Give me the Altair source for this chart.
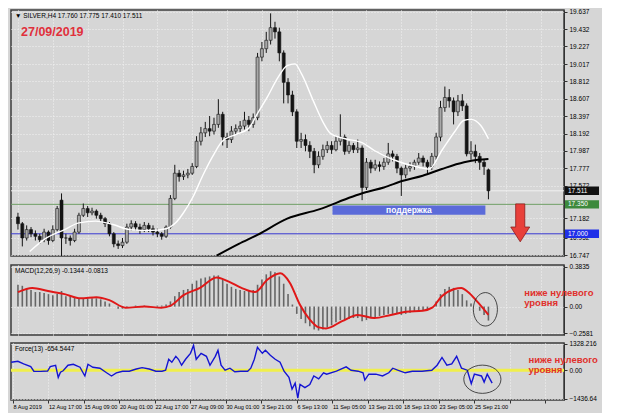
import json
import altair as alt
import pandas as pd

# ---------------- data ----------------
opens = [17.20, 17.12, 16.95, 17.05, 17.00, 16.97, 16.93, 17.02, 16.92, 17.05,
         17.40, 16.95, 16.95, 16.92, 17.02, 17.22, 17.30, 17.25, 17.27, 17.22,
         17.18, 17.12, 17.00, 16.88, 16.86, 16.90, 17.08, 17.12, 17.08, 17.05,
         17.10, 17.06, 17.02, 17.00, 16.97, 17.08, 17.42, 17.72, 17.68, 17.70,
         17.72, 17.80, 18.10, 18.20, 18.25, 18.22, 18.30, 18.42, 18.15, 18.12,
         18.22, 18.25, 18.28, 18.35, 18.30, 18.38, 19.10, 19.20, 19.30, 19.45,
         19.40, 19.15, 18.80, 18.65, 18.45, 18.10, 18.12, 18.05, 17.98, 17.82,
         17.92, 18.00, 18.05, 18.00, 18.10, 18.15, 17.98, 18.05, 18.00, 18.02,
         17.55, 17.85, 17.78, 17.82, 17.80, 17.85, 17.95, 17.92, 17.78, 17.70,
         17.78, 17.80, 17.85, 17.90, 17.85, 17.80, 17.92, 18.15, 18.50, 18.62,
         18.58, 18.45, 18.58, 18.52, 17.95, 17.98, 17.92, 17.85, 17.76]
highs = [17.25, 17.14, 17.10, 17.08, 17.04, 17.00, 17.06, 17.04, 17.10, 17.33,
         17.48, 17.00, 16.98, 17.06, 17.25, 17.36, 17.33, 17.31, 17.29, 17.25,
         17.20, 17.14, 17.02, 16.92, 16.95, 17.12, 17.16, 17.15, 17.12, 17.14,
         17.13, 17.10, 17.06, 17.02, 17.10, 17.46, 17.82, 17.76, 17.75, 17.77,
         17.84, 18.16, 18.27, 18.33, 18.40, 18.38, 18.60, 18.45, 18.20, 18.28,
         18.30, 18.34, 18.45, 18.40, 18.43, 19.15, 19.28, 19.40, 19.62, 19.52,
         19.45, 19.18, 18.85, 18.70, 18.48, 18.20, 18.18, 18.10, 18.02, 17.98,
         18.06, 18.10, 18.10, 18.16, 18.42, 18.18, 18.10, 18.08, 18.12, 18.05,
         17.90, 17.88, 17.88, 17.86, 17.90, 18.08, 17.99, 17.95, 17.80, 17.82,
         17.85, 17.88, 17.96, 17.93, 17.88, 17.96, 18.20, 18.58, 18.75, 18.72,
         18.62, 18.65, 18.66, 18.55, 18.10, 18.06, 17.96, 17.88, 17.775]
lows = [17.05, 16.85, 16.92, 16.96, 16.92, 16.88, 16.90, 16.87, 16.90, 17.03,
        16.70, 16.88, 16.86, 16.90, 17.00, 17.20, 17.20, 17.22, 17.18, 17.14,
        17.08, 16.97, 16.84, 16.82, 16.83, 16.88, 17.04, 17.04, 17.00, 17.02,
        17.02, 16.98, 16.96, 16.93, 16.95, 17.06, 17.40, 17.62, 17.64, 17.66,
        17.70, 17.78, 18.05, 18.15, 18.16, 18.18, 18.26, 18.05, 18.02, 18.08,
        18.18, 18.20, 18.24, 18.22, 18.26, 18.35, 19.05, 19.15, 19.25, 19.32,
        19.05, 18.55, 18.55, 18.40, 18.02, 18.02, 17.98, 17.90, 17.72, 17.78,
        17.88, 17.96, 17.95, 17.98, 18.05, 17.94, 17.95, 17.96, 17.96, 17.40,
        17.52, 17.72, 17.75, 17.74, 17.76, 17.82, 17.86, 17.72, 17.45, 17.66,
        17.74, 17.76, 17.82, 17.80, 17.72, 17.76, 17.88, 18.10, 18.45, 18.50,
        18.30, 18.40, 18.46, 17.92, 17.88, 17.84, 17.76, 17.70, 17.41]
closes = [17.12, 16.95, 17.05, 17.00, 16.97, 16.93, 17.02, 16.92, 17.05, 17.30,
          16.95, 16.95, 16.92, 17.02, 17.22, 17.30, 17.25, 17.27, 17.22, 17.18,
          17.12, 17.00, 16.88, 16.86, 16.90, 17.08, 17.12, 17.08, 17.05, 17.10,
          17.06, 17.02, 17.00, 16.97, 17.08, 17.42, 17.72, 17.68, 17.70, 17.72,
          17.80, 18.10, 18.20, 18.25, 18.22, 18.30, 18.42, 18.15, 18.12, 18.22,
          18.25, 18.28, 18.35, 18.30, 18.38, 19.10, 19.20, 19.30, 19.45, 19.40,
          19.15, 18.80, 18.65, 18.45, 18.10, 18.12, 18.05, 17.98, 17.82, 17.92,
          18.00, 18.05, 18.00, 18.10, 18.15, 17.98, 18.05, 18.00, 18.02, 17.55,
          17.85, 17.78, 17.82, 17.80, 17.85, 17.95, 17.92, 17.78, 17.70, 17.78,
          17.80, 17.85, 17.90, 17.85, 17.80, 17.92, 18.15, 18.50, 18.62, 18.58,
          18.45, 18.58, 18.52, 17.95, 17.98, 17.92, 17.85, 17.80, 17.511]

white_t = [2.7, 6.2, 10.7, 14.0, 17.8, 21.8, 25.6, 30.7, 34.0, 36.2,
           38.0, 40.2, 42.4, 44.7, 46.9, 50.0, 52.9, 55.1, 57.3, 59.6,
           61.8, 63.6, 65.1, 67.8, 70.0, 71.8, 75.1, 79.1, 81.8, 86.2,
           91.3, 94.4, 97.3, 100.2, 102.4, 104.0, 106.2, 108.0]
white_v = [16.79, 16.94, 17.05, 17.13, 17.15, 17.11, 17.05, 17.04, 17.06, 17.13,
           17.25, 17.44, 17.69, 17.92, 18.10, 18.18, 18.25, 18.44, 18.63, 18.85,
           19.00, 19.02, 18.90, 18.58, 18.33, 18.19, 18.13, 18.08, 17.99, 17.88,
           17.80, 17.77, 17.99, 18.21, 18.35, 18.36, 18.29, 18.13]
black_t = [45.6, 50.7, 55.1, 61.8, 69.1, 76.7, 79.6, 84.0, 88.4, 92.9, 97.3, 102.4, 105.6, 108.0]
black_v = [16.74, 16.88, 16.99, 17.18, 17.29, 17.44, 17.49, 17.55, 17.63, 17.69, 17.77, 17.85, 17.88, 17.89]

macd_hist = [0.21, 0.20, 0.17, 0.16, 0.14, 0.14, 0.13, 0.12, 0.11, 0.12,
             0.15, 0.10, 0.10, 0.09, 0.08, 0.08, 0.08, 0.08, 0.08, 0.07,
             0.05, 0.03, 0.00, -0.02, -0.02, -0.01, 0.00, 0.01, 0.00, 0.01,
             0.00, 0.00, 0.01, 0.01, 0.02, 0.05, 0.10, 0.14, 0.16, 0.17,
             0.22, 0.25, 0.27, 0.28, 0.29, 0.30, 0.30, 0.26, 0.22, 0.19,
             0.17, 0.16, 0.15, 0.15, 0.16, 0.21, 0.26, 0.31, 0.34, 0.33,
             0.29, 0.22, 0.12, 0.02, -0.07, -0.12, -0.16, -0.19, -0.22, -0.23,
             -0.22, -0.20, -0.18, -0.15, -0.13, -0.13, -0.12, -0.11, -0.11, -0.14,
             -0.13, -0.11, -0.10, -0.09, -0.08, -0.07, -0.07, -0.07, -0.08, -0.07,
             -0.06, -0.05, -0.05, -0.04, -0.03, 0.00, 0.05, 0.12, 0.17, 0.19,
             0.18, 0.16, 0.12, 0.06, 0.03, 0.00, -0.04, -0.08, -0.1344]
signal_t = [0, 3.3, 6.9, 10.7, 14.4, 18.0, 21.1, 24.7, 29.1, 32.9,
            35.1, 38.0, 41.8, 45.6, 48.4, 51.3, 54.4, 57.3, 60.2, 62.4,
            64.7, 66.9, 69.1, 70.7, 74.4, 78.0, 81.8, 85.6, 89.1, 92.9,
            95.1, 97.3, 100.2, 101.8, 103.3, 105.6, 108.0]
signal_v = [0.14, 0.18, 0.15, 0.12, 0.08, 0.09, 0.06, -0.01, 0.00, -0.01,
            0.01, 0.11, 0.18, 0.28, 0.24, 0.18, 0.14, 0.26, 0.32, 0.23,
            0.02, -0.12, -0.20, -0.21, -0.14, -0.08, -0.11, -0.08, -0.05, -0.04,
            -0.01, 0.10, 0.17, 0.18, 0.14, 0.04, -0.08]

force_t = [-0.4, 1.1, 2.4, 4.0, 4.7, 6.2, 7.8, 8.4, 9.6, 10.2,
           10.7, 11.3, 12.4, 13.6, 14.4, 15.1, 16.2, 16.9, 18.0, 19.6,
           21.1, 22.2, 23.3, 24.7, 26.2, 27.8, 29.1, 30.7, 32.2, 33.6,
           34.4, 35.1, 35.8, 36.7, 37.3, 38.0, 38.9, 40.0, 40.7, 41.3,
           42.4, 43.6, 44.4, 45.6, 46.2, 46.9, 47.8, 48.9, 50.0, 51.3,
           52.9, 53.6, 54.4, 55.1, 56.2, 56.9, 58.0, 59.1, 60.2, 61.1,
           62.2, 62.9, 63.6, 64.2, 64.7, 65.8, 66.9, 67.8, 68.9, 70.0,
           70.7, 72.9, 75.1, 76.2, 77.8, 78.9, 79.3, 80.2, 81.8, 83.3,
           84.7, 85.6, 86.7, 88.4, 90.0, 92.2, 94.4, 95.6, 96.7, 97.8,
           98.9, 100.0, 101.1, 102.4, 103.3, 104.0, 105.6, 106.2, 106.9, 108.0]
force_v = [400, 450, 320, 180, -50, -60, -40, 180, 250, -360,
           -100, -30, 250, 300, 220, 150, -290, 300, 150, 100,
           -130, -290, -130, -50, -50, 60, 130, 60, -50, -50,
           0, 550, 400, 700, 550, 250, 550, 850, 1250, 550,
           850, 700, 250, 700, 1000, 250, 0, 100, -80, -50,
           -50, 100, 550, 1150, 850, 1000, 750, 550, 400, -50,
           -360, -950, -650, -1400, -720, -880, -720, -290, -440, -130,
           -200, -50, 170, 0, -50, -130, -500, -200, -200, -290,
           -130, 100, 0, -130, -50, -50, 0, 250, 640, 250,
           320, 700, 100, 0, -680, -200, -290, -600, -200, -654]

x_tick_labels = ["8 Aug 2019", "12 Aug 17:00", "15 Aug 09:00", "20 Aug 01:00",
                 "22 Aug 17:00", "27 Aug 09:00", "30 Aug 01:00", "3 Sep 21:00",
                 "6 Sep 13:00", "11 Sep 05:00", "13 Sep 21:00", "18 Sep 13:00",
                 "23 Sep 05:00", "25 Sep 21:00"]
price_ticks = [19.637, 19.432, 19.227, 19.017, 18.812, 18.607, 18.397, 18.192,
               17.987, 17.777, 17.572, 17.182, 16.952, 16.747]
macd_ticks = [0.3835, 0.0, -0.2581]
force_ticks = [1328.216, 0.0, -1436.64]

last_price = 17.511
support_level = 17.35
blue_level = 17.00
support_box = {"t0": 72.2, "t1": 107.3, "top": 17.335, "bot": 17.225}
arrow_at = {"t": 115.3, "p": 17.13}
macd_circle = {"t": 107.3, "v": -0.026}
force_circle = {"t": 105.8, "v": -455}
note = ["ниже нулевого", "уровня"]
macd_note_v = [0.13, 0.035]
force_note_v = [490, 10]
note_t = 116.2

# ---------------- layout / style ----------------
W = 553
H_MAIN, H_MACD, H_FORCE = 246, 70, 57
FONT = "Liberation Sans"
GRID_COL = "#f2f2f2"
X_DOMAIN = [-0.45, 124.2]
GRID_T = list(range(0, 121, 8))

xscale = alt.Scale(domain=X_DOMAIN, nice=False, zero=False)
x_hidden = alt.Axis(values=GRID_T, labels=False, ticks=False, domain=False, title=None,
                    minExtent=0, maxExtent=0, offset=0,
                    grid=True, gridColor=GRID_COL, gridDash=[1, 2], gridOpacity=1)
lbl_js = json.dumps(x_tick_labels, ensure_ascii=False)
x_shown = alt.Axis(values=GRID_T, title=None, domain=False,
                   labelExpr=f"round(datum.value/8) < {len(x_tick_labels)} ? {lbl_js}[round(datum.value/8)] : ''",
                   labelAlign="left", labelFont=FONT, labelFontSize=5.6, labelColor="#000",
                   labelPadding=1, tickSize=3, tickColor="#333", labelOverlap=False,
                   grid=True, gridColor=GRID_COL, gridDash=[1, 2], gridOpacity=1)


def yaxis(values, fmt=None, expr=None):
    kw = dict(orient="right", values=values, title=None, labelFont=FONT, labelFontSize=6.5,
              labelColor="#000", tickSize=3, tickColor="#333", domainColor="#333",
              grid=True, gridColor=GRID_COL, gridDash=[1, 2], gridOpacity=1,
              labelOverlap=False, labelPadding=2)
    if fmt:
        kw["format"] = fmt
    if expr:
        kw["labelExpr"] = expr
    return alt.Axis(**kw)


def enc_factory(xaxis, yscale_, yaxis_):
    def X(f):
        return alt.X(f, scale=xscale, axis=xaxis)

    def Y(f):
        return alt.Y(f, scale=yscale_, axis=yaxis_)
    return X, Y


one = pd.DataFrame({"a": [0]})

# ---------------- main price panel ----------------
yscale = alt.Scale(domain=[16.736, 19.66], nice=False, zero=False)
MX, MY = enc_factory(x_hidden, yscale, yaxis(price_ticks, fmt=".3f"))

cd = pd.DataFrame({"t": list(range(len(closes))), "o": opens, "h": highs, "l": lows, "c": closes})
cd["up"] = cd["c"] >= cd["o"]

levels = pd.DataFrame({
    "p": [last_price, support_level, blue_level],
    "line": ["#f0f0f0", "#6f9f66", "#3a3ad2"],
    "box": ["#101010", "#3d8a3d", "#1f2fe8"],
})
levels["label"] = levels["p"].map(lambda v: f"{v:.3f}")
levels["top"] = levels["p"] + 0.05
levels["bot"] = levels["p"] - 0.05

hlines = alt.Chart(levels).mark_rule(strokeWidth=1).encode(
    y=MY("p:Q"), color=alt.Color("line:N", scale=None))
wicks = alt.Chart(cd).mark_rule(color="#141414", strokeWidth=1, clip=True).encode(
    x=MX("t:Q"), y=MY("l:Q"), y2="h:Q")
bodies = alt.Chart(cd).mark_bar(size=3, orient="vertical", stroke="#141414", strokeWidth=0.6, clip=True).encode(
    x=MX("t:Q"), y=MY("o:Q"), y2="c:Q",
    fill=alt.condition("datum.up", alt.value("#a8a8a8"), alt.value("#141414")))
ma_white = alt.Chart(pd.DataFrame({"t": white_t, "v": white_v})).mark_line(
    color="#ffffff", strokeWidth=1.4, interpolate="monotone", clip=True).encode(x=MX("t:Q"), y=MY("v:Q"))
ma_black = alt.Chart(pd.DataFrame({"t": black_t, "v": black_v})).mark_line(
    color="#000000", strokeWidth=2, interpolate="monotone", clip=True).encode(x=MX("t:Q"), y=MY("v:Q"))

sb = pd.DataFrame([support_box])
sb["mid_t"] = (sb["t0"] + sb["t1"]) / 2
sb["mid_p"] = (sb["top"] + sb["bot"]) / 2
sup_rect = alt.Chart(sb).mark_rect(color="#5b6bd9").encode(
    x=MX("t0:Q"), x2="t1:Q", y=MY("top:Q"), y2="bot:Q")
sup_text = alt.Chart(sb).mark_text(color="white", font=FONT, fontSize=8.5, fontWeight="bold").encode(
    x=MX("mid_t:Q"), y=MY("mid_p:Q"), text=alt.value("поддержка"))

ARROW = "M-0.24,-1 L0.24,-1 L0.24,0.22 L0.5,0.22 L0,1 L-0.5,0.22 L-0.24,0.22 Z"
arrow = alt.Chart(pd.DataFrame([arrow_at])).mark_point(
    shape=ARROW, size=1440, filled=True, fill="#e8403a", stroke="#8a1c1c", strokeWidth=0.8, opacity=1).encode(
    x=MX("t:Q"), y=MY("p:Q"))

boxes = alt.Chart(levels).mark_rect().encode(
    x=alt.value(W + 1), x2=alt.value(W + 35), y=MY("top:Q"), y2="bot:Q", color=alt.Color("box:N", scale=None))
box_txt = alt.Chart(levels).mark_text(align="left", color="white", font=FONT, fontSize=6.5).encode(
    x=alt.value(W + 4), y=MY("p:Q"), text="label:N")

hdr = f"▼ SILVER,H4  {opens[-1]:.3f} {highs[-1]:.3f} {lows[-1]:.3f} {closes[-1]:.3f}"
hdr_txt = alt.Chart(one).mark_text(align="left", baseline="middle", font=FONT, fontSize=6.5, color="#000").encode(
    x=alt.value(4), y=alt.value(6), text=alt.value(hdr))
date_txt = alt.Chart(one).mark_text(align="left", baseline="middle", font=FONT, fontSize=12.5,
                                    fontWeight="bold", color="#e0303c").encode(
    x=alt.value(10), y=alt.value(22), text=alt.value("27/09/2019"))

main = alt.layer(hlines, wicks, bodies, ma_white, ma_black, sup_rect, sup_text,
                 arrow, boxes, box_txt, hdr_txt, date_txt).properties(width=W, height=H_MAIN)

# ---------------- MACD panel ----------------
mscale = alt.Scale(domain=[-0.273, 0.40], nice=False, zero=False)
macd_expr = "datum.value == 0 ? '0.00' : format(datum.value, '.4f')"
AX, AY = enc_factory(x_hidden, mscale, yaxis(macd_ticks, expr=macd_expr))
hist = alt.Chart(pd.DataFrame({"t": list(range(len(macd_hist))), "v": macd_hist, "z": 0.0})).mark_bar(
    size=1.6, orient="vertical", color="#666666").encode(x=AX("t:Q"), y=AY("v:Q"), y2="z:Q")
sig = alt.Chart(pd.DataFrame({"t": signal_t, "v": signal_v})).mark_line(
    color="#e01818", strokeWidth=2, interpolate="monotone").encode(x=AX("t:Q"), y=AY("v:Q"))
macd_lbl = alt.Chart(one).mark_text(align="left", baseline="middle", font=FONT, fontSize=6.5, color="#000").encode(
    x=alt.value(4), y=alt.value(6), text=alt.value("MACD(12,26,9) -0.1344 -0.0813"))
ELL_TALL = "M-0.72,0 A0.72,1 0 1,0 0.72,0 A0.72,1 0 1,0 -0.72,0 Z"
ELL_WIDE = "M-1,0 A1,0.76 0 1,0 1,0 A1,0.76 0 1,0 -1,0 Z"
m_ell = alt.Chart(pd.DataFrame([macd_circle])).mark_point(
    shape=ELL_TALL, size=1120, filled=False, color="#222222", strokeWidth=0.8, opacity=1).encode(
    x=AX("t:Q"), y=AY("v:Q"))
m_note = alt.Chart(pd.DataFrame({"t": [note_t, note_t], "v": macd_note_v, "s": note})).mark_text(
    align="left", baseline="middle", font=FONT, fontSize=9.5, fontWeight="bold", color="#e0302c").encode(
    x=AX("t:Q"), y=AY("v:Q"), text="s:N")
macd = alt.layer(hist, sig, macd_lbl, m_ell, m_note).properties(width=W, height=H_MACD)

# ---------------- Force panel ----------------
fscale = alt.Scale(domain=[-1500, 1370], nice=False, zero=False)
force_expr = "datum.value == 0 ? '0.00' : (datum.value > 0 ? format(datum.value, '.3f') : format(datum.value, '.2f'))"
FX, FY = enc_factory(x_shown, fscale, yaxis(force_ticks, expr=force_expr))
zero = alt.Chart(pd.DataFrame({"v": [0]})).mark_rule(color="#f0ef4a", strokeWidth=3).encode(y=FY("v:Q"))
fline = alt.Chart(pd.DataFrame({"t": force_t, "v": force_v})).mark_line(
    color="#1414d2", strokeWidth=1.4, clip=True).encode(x=FX("t:Q"), y=FY("v:Q"))
f_lbl = alt.Chart(one).mark_text(align="left", baseline="middle", font=FONT, fontSize=6.5, color="#000").encode(
    x=alt.value(4), y=alt.value(6), text=alt.value("Force(13) -654.5447"))
f_ell = alt.Chart(pd.DataFrame([force_circle])).mark_point(
    shape=ELL_WIDE, size=1380, filled=False, color="#222222", strokeWidth=0.8, opacity=1).encode(
    x=FX("t:Q"), y=FY("v:Q"))
f_note = alt.Chart(pd.DataFrame({"t": [note_t, note_t], "v": force_note_v, "s": note})).mark_text(
    align="left", baseline="middle", font=FONT, fontSize=9.5, fontWeight="bold", color="#e0302c").encode(
    x=FX("t:Q"), y=FY("v:Q"), text="s:N")
force = alt.layer(zero, fline, f_lbl, f_ell, f_note).properties(width=W, height=H_FORCE)

chart = alt.vconcat(main, macd, force, spacing=2).properties(
    background="#d6d6d6", padding={"left": 0, "top": 0, "right": 2, "bottom": 2}
).configure_view(stroke="#3c3c3c", strokeWidth=1.5, fill="#d6d6d6")

chart.save("out.html", embed_options={"renderer": "svg", "actions": False})
